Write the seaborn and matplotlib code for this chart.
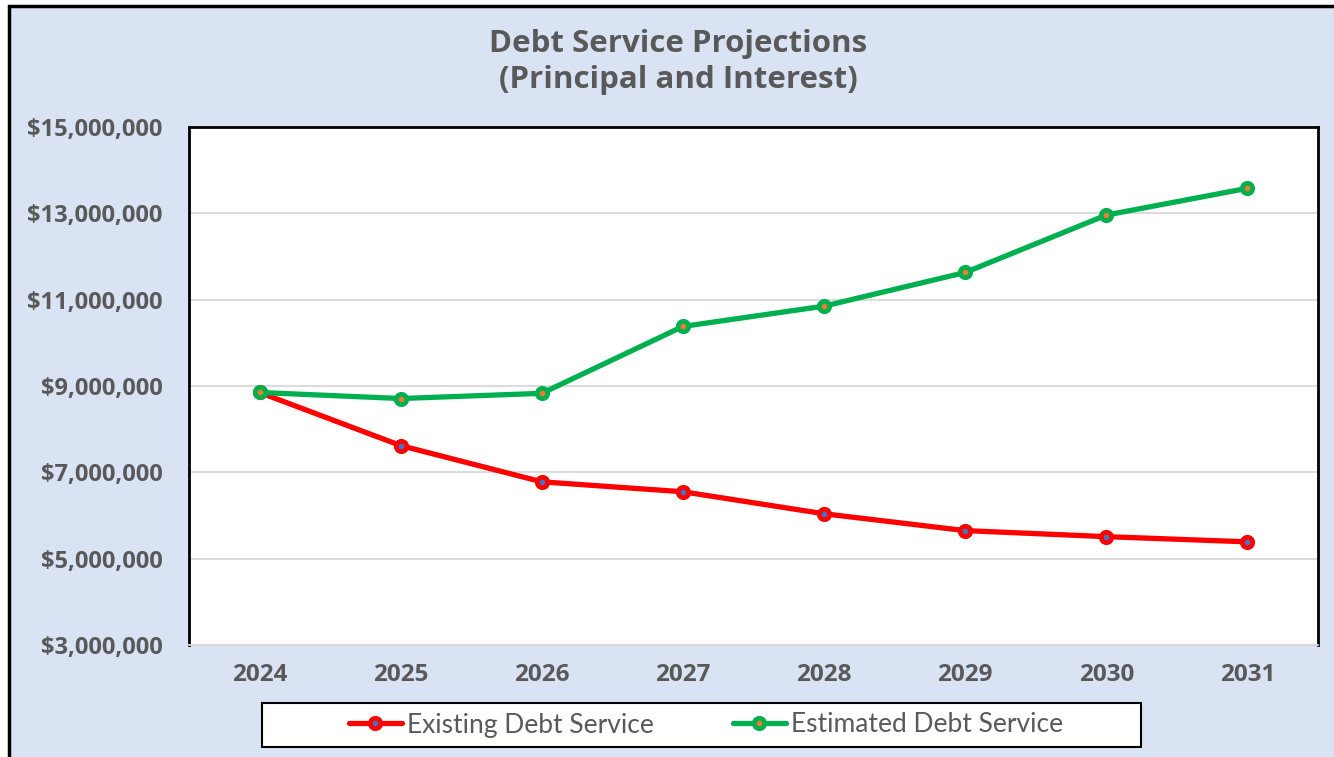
import matplotlib
matplotlib.use("Agg")
import matplotlib.pyplot as plt
import matplotlib.ticker as mticker
from matplotlib.patches import Rectangle
import seaborn as sns
import pandas as pd

years = [2024, 2025, 2026, 2027, 2028, 2029, 2030, 2031]
existing = [8850000, 7620000, 6780000, 6550000, 6040000, 5650000, 5510000, 5390000]
estimated = [8850000, 8710000, 8830000, 10380000, 10850000, 11630000, 12960000, 13580000]
series_names = ["Existing Debt Service", "Estimated Debt Service"]
title = "Debt Service Projections\n(Principal and Interest)"

df = pd.DataFrame({"year": years, series_names[0]: existing, series_names[1]: estimated})

sns.set_theme(style="white")
plt.rcParams["font.family"] = ["Open Sans", "DejaVu Sans"]

TXT = "#595959"
BG = "#DAE3F3"

fig = plt.figure(figsize=(13.34, 7.57), dpi=100, facecolor="white")
fig.patches.append(Rectangle((9/1334, -0.05), 1.2, 1.05 - 5.5/757, transform=fig.transFigure,
                             facecolor=BG, edgecolor="black", linewidth=2.5, zorder=-10))

ax = fig.add_axes([189/1334, 1 - 645/757, (1318-189)/1334, (645-127)/757])
ax.set_facecolor("white")

styles = [("#FF0000", "#4472C4"), ("#00B050", "#ED7D31")]
for name, (c, fc) in zip(series_names, styles):
    sns.lineplot(data=df, x="year", y=name, ax=ax, color=c, linewidth=3.8,
                 marker="o", markersize=7.5, markerfacecolor=fc, markeredgecolor=c,
                 markeredgewidth=3.4, label=name, legend=False)

ax.set_xlim(2023.5, 2031.5)
ax.set_ylim(3000000, 15000000)
ax.set_yticks(range(3000000, 15000001, 2000000))
ax.set_xticks(years)
ax.yaxis.set_major_formatter(mticker.StrMethodFormatter("${x:,.0f}"))
ax.grid(axis="y", color="#D9D9D9", linewidth=1.3)
ax.grid(axis="x", visible=False)
ax.set_xlabel("")
ax.set_ylabel("")
for s in ["left", "top", "right"]:
    ax.spines[s].set_color("black")
    ax.spines[s].set_linewidth(2)
ax.spines["bottom"].set_color("#D9D9D9")
ax.spines["bottom"].set_linewidth(1.3)
ax.tick_params(axis="both", length=0, colors=TXT)
ax.tick_params(axis="y", pad=19, labelsize=17)
ax.tick_params(axis="x", pad=13, labelsize=17.5)
for lbl in ax.get_xticklabels() + ax.get_yticklabels():
    lbl.set_fontweight("bold")

fig.text(678/1334, 1 - 62/757, title, ha="center", va="center", fontsize=22.5,
         fontweight="bold", color=TXT, linespacing=1.25)

# legend box
fig.patches.append(Rectangle((262/1334, 1 - 747/757), (1141-262)/1334, 44/757,
                             transform=fig.transFigure, facecolor="white",
                             edgecolor="black", linewidth=1.5, zorder=5))
handles, labels = ax.get_legend_handles_labels()
leg = fig.legend(handles, labels, loc="center", bbox_to_anchor=(706/1334, 1 - 725/757),
                 ncol=2, frameon=False, columnspacing=3.0, handlelength=2.0,
                 handletextpad=0.2, prop={"family": ["Lato", "DejaVu Sans"], "size": 19})
for t in leg.get_texts():
    t.set_color(TXT)
leg.set_zorder(6)

fig.savefig("out.png", dpi=100, facecolor="white")
